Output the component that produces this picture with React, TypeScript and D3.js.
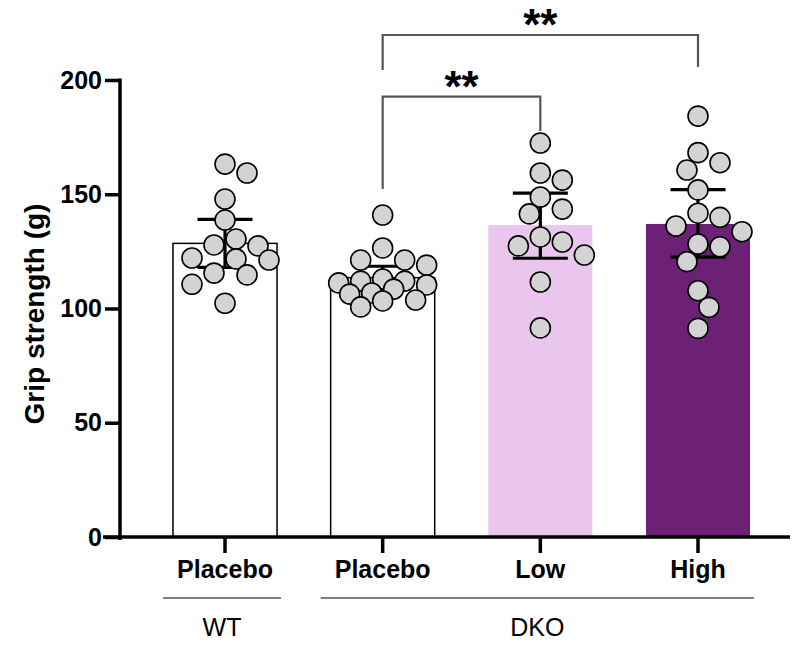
import React, { useEffect, useRef } from "react";
import * as d3 from "d3";

// group / tick labels
const groupIds = ["wt-placebo", "dko-placebo", "dko-low", "dko-high"];
const tickLabels = ["Placebo", "Placebo", "Low", "High"];
const barFills = ["#ffffff", "#ffffff", "#eac6ee", "#6c2176"];

// bar heights (mean) and 95% CI ends
const barMeans = [128.5, 113.5, 136.5, 137];
const ciLow = [118, 108.5, 122, 122.5];
const ciHigh = [139, 118.5, 150.5, 152];

// individual animals
const wtPlacebo = [163.2, 159.3, 147.9, 138.7, 130.4, 127.8, 127.4, 122.1, 121.7, 121.2, 115.5, 114.7, 110.6, 102.3];
const dkoPlacebo = [140.9, 126.5, 121.2, 121.2, 119.0, 112.9, 112.0, 112.0, 111.2, 110.3, 108.5, 106.8, 106.3, 103.7, 103.3, 100.7];
const dkoLow = [172.4, 159.3, 156.2, 148.8, 143.5, 141.4, 131.3, 129.1, 127.4, 123.4, 111.6, 91.5];
const dkoHigh = [184.2, 168.2, 163.8, 160.6, 151.9, 141.7, 139.9, 136.1, 133.6, 128.2, 127.0, 120.5, 107.8, 100.5, 91.3];
const points = [wtPlacebo, dkoPlacebo, dkoLow, dkoHigh];

// genotype groups under the axis (index ranges)
const genotypes = [
  { name: "WT", from: 0, to: 0 },
  { name: "DKO", from: 1, to: 3 },
];

// significance brackets (y values in grams)
const brackets = [
  { from: 1, to: 2, top: 192.7, leftEnd: 152.3, rightEnd: 177.7, label: "**" },
  { from: 1, to: 3, top: 219.7, leftEnd: 204.4, rightEnd: 205.7, label: "**" },
];

const yTicks = [0, 50, 100, 150, 200];

const W = 805, H = 645;
const FONT = "'Liberation Sans', Arial, sans-serif";

const Chart = () => {
  const ref = useRef<SVGSVGElement>(null);

  useEffect(() => {
    const svg = d3.select(ref.current);
    svg.selectAll("*").remove();

    const y = d3.scaleLinear().domain([0, 200]).range([537, 80]);
    const x = d3.scaleBand().domain(groupIds).range([120, 803]).paddingInner(0.34).paddingOuter(0.336);
    const bw = x.bandwidth();
    const cx = (i: number) => (x(groupIds[i]) as number) + bw / 2;

    const g = svg.append("g");

    // bars
    g.selectAll("rect.bar")
      .data(groupIds)
      .join("rect")
      .attr("class", "bar")
      .attr("x", (d) => x(d) as number)
      .attr("y", (_, i) => y(barMeans[i]))
      .attr("width", bw)
      .attr("height", (_, i) => y(0) - y(barMeans[i]))
      .attr("fill", (_, i) => barFills[i])
      .attr("stroke", (_, i) => (i < 2 ? "#000" : "none"))
      .attr("stroke-width", 1.5);

    // error bars
    const capW = 27.5;
    groupIds.forEach((_, i) => {
      const e = g.append("g").attr("stroke", "#000").attr("stroke-width", 3.2);
      e.append("line").attr("x1", cx(i)).attr("x2", cx(i)).attr("y1", y(ciLow[i])).attr("y2", y(ciHigh[i]));
      e.append("line").attr("x1", cx(i) - capW).attr("x2", cx(i) + capW).attr("y1", y(ciLow[i])).attr("y2", y(ciLow[i]));
      e.append("line").attr("x1", cx(i) - capW).attr("x2", cx(i) + capW).attr("y1", y(ciHigh[i])).attr("y2", y(ciHigh[i]));
    });

    // scatter, bounded beeswarm
    const r = 10;
    const step = 11;
    const maxOff = 44;
    points.forEach((vals, i) => {
      const placed: { x: number; y: number }[] = [];
      vals.forEach((v) => {
        const py = y(v);
        let best = cx(i);
        let bestD = -1;
        for (let k = 0; ; k++) {
          const off = k === 0 ? 0 : Math.ceil(k / 2) * step * (k % 2 ? 1 : -1);
          if (Math.abs(off) > maxOff) break;
          const px = cx(i) + off;
          const dmin = placed.length ? d3.min(placed, (p) => Math.hypot(p.x - px, p.y - py)) as number : Infinity;
          if (dmin >= 2 * r - 1) { best = px; bestD = Infinity; break; }
          if (dmin > bestD) { bestD = dmin; best = px; }
        }
        placed.push({ x: best, y: py });
      });
      g.selectAll(null)
        .data(placed)
        .join("circle")
        .attr("cx", (d) => d.x)
        .attr("cy", (d) => d.y)
        .attr("r", r)
        .attr("fill", "#d3d3d3")
        .attr("stroke", "#000")
        .attr("stroke-width", 1.6);
    });

    // y axis
    const ya = svg.append("g").attr("transform", "translate(120,0)");
    ya.call(d3.axisLeft(y).tickValues(yTicks).tickSize(15).tickSizeOuter(0).tickPadding(3));
    ya.select(".domain").attr("d", `M0,${y(200) - 1.5}V${y(0) + 3}`).attr("stroke-width", 3.5);
    ya.selectAll(".tick line").attr("stroke-width", 3.5);
    ya.selectAll(".tick text")
      .attr("font-family", FONT)
      .attr("font-weight", "bold")
      .attr("font-size", 25)
      .attr("fill", "#000");

    // x axis
    const xa = svg.append("g").attr("transform", `translate(0,${y(0)})`);
    xa.call(d3.axisBottom(x).tickSize(16).tickSizeOuter(0).tickPadding(7).tickFormat((_, i) => tickLabels[i]));
    xa.select(".domain").attr("d", "M103,0H790").attr("stroke-width", 3.5);
    xa.selectAll(".tick line").attr("stroke-width", 3.5);
    xa.selectAll(".tick text")
      .attr("font-family", FONT)
      .attr("font-weight", "bold")
      .attr("font-size", 25)
      .attr("fill", "#000");

    svg.append("text")
      .attr("transform", `translate(44,314) rotate(-90)`)
      .attr("text-anchor", "middle")
      .attr("font-family", FONT)
      .attr("font-weight", "bold")
      .attr("font-size", 28)
      .text("Grip strength (g)");

    // genotype lines and labels
    genotypes.forEach((gt) => {
      const x0 = (x(groupIds[gt.from]) as number) - 10;
      const x1 = (x(groupIds[gt.to]) as number) + bw + 4;
      svg.append("line")
        .attr("x1", x0).attr("x2", x1).attr("y1", 598).attr("y2", 598)
        .attr("stroke", "#555").attr("stroke-width", 1.6);
      svg.append("text")
        .attr("x", (x0 + x1) / 2)
        .attr("y", 636)
        .attr("text-anchor", "middle")
        .attr("font-family", FONT)
        .attr("font-size", 25)
        .text(gt.name);
    });

    // significance brackets
    brackets.forEach((b) => {
      const x0 = cx(b.from), x1 = cx(b.to);
      svg.append("path")
        .attr("d", `M${x0},${y(b.leftEnd)}V${y(b.top)}H${x1}V${y(b.rightEnd)}`)
        .attr("fill", "none")
        .attr("stroke", "#555")
        .attr("stroke-width", 2.2);
      svg.append("text")
        .attr("x", (x0 + x1) / 2)
        .attr("y", y(b.top) + 5)
        .attr("text-anchor", "middle")
        .attr("font-family", FONT)
        .attr("font-weight", "bold")
        .attr("font-size", 44)
        .text(b.label);
    });
  }, []);

  return <svg ref={ref} width={W} height={H} style={{ position: "absolute", left: 0, top: 0 }} />;
};

export default function App() {
  return <Chart />;
}
